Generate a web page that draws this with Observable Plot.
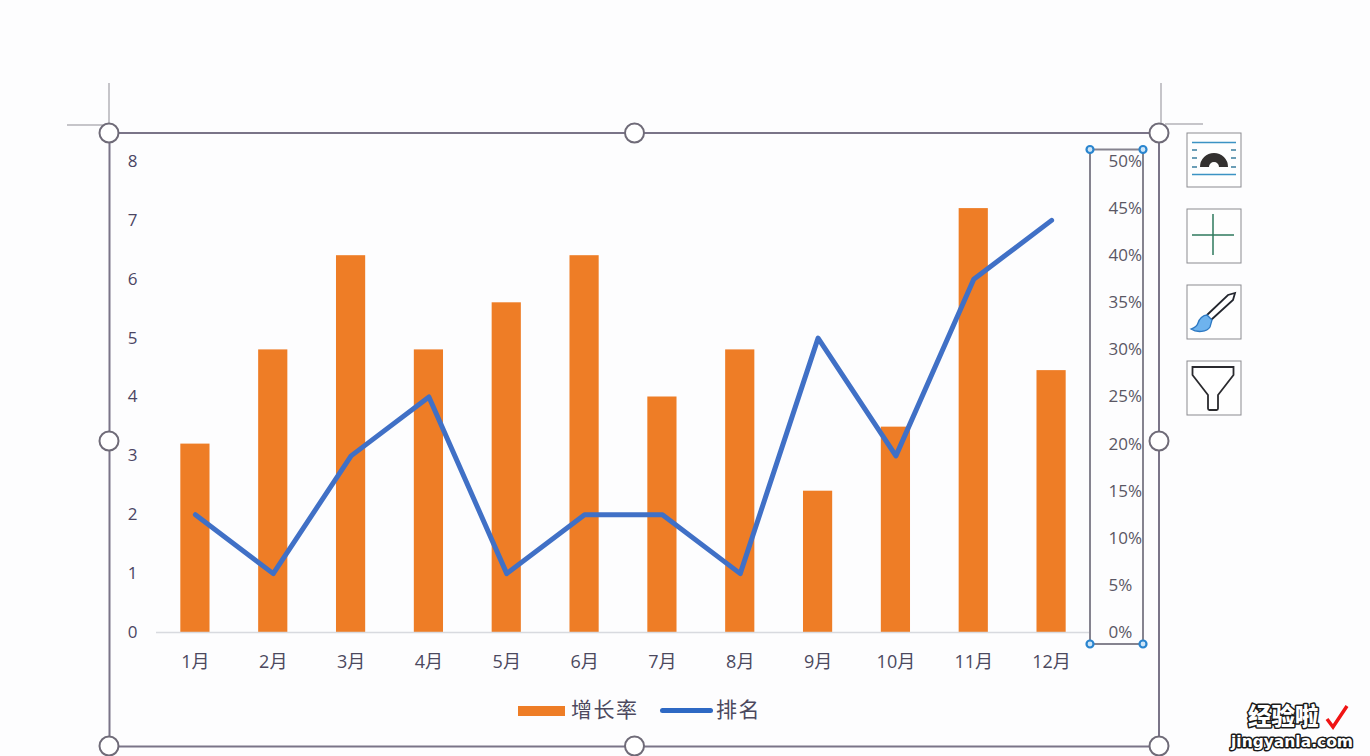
<!DOCTYPE html>
<html lang="zh">
<head>
<meta charset="utf-8">
<script src="https://cdn.jsdelivr.net/npm/d3@7"></script>
<script src="https://cdn.jsdelivr.net/npm/@observablehq/plot@0.6"></script>
<style>
  html, body { margin: 0; padding: 0; background: #fdfdfe; }
  body { position: relative; width: 1370px; height: 756px; overflow: hidden;
         font-family: "Open Sans", "Noto Sans CJK SC", sans-serif; color: #4c495e; }
  #chart svg { display: block; background: transparent; }
  #legend { position: absolute; left: 0; top: 692px; width: 1370px; height: 34px; }
  .item { position: absolute; top: 0; height: 34px; line-height: 34px; font-size: 21px; letter-spacing: 1.500px; white-space: nowrap; }
  .sw { position: absolute; }
  #chrome { position: absolute; left: 0; top: 0; pointer-events: none; }
</style>
</head>
<body>
<div id="chart"></div>
<div id="legend">
  <span class="sw" style="left:518px;top:14px;width:47px;height:10px;background:#ee7d26"></span>
  <span class="item" style="left:571px">增长率</span>
  <span class="sw" style="left:660px;top:16px;width:53px;height:5px;border-radius:3px;background:#2e69c4"></span>
  <span class="item" style="left:716px">排名</span>
</div>
<svg id="chrome" width="1370" height="756" viewBox="0 0 1370 756" fill="none">
  <g stroke="#8f8d95" stroke-width="1">
    <path d="M109 83V124M67 125H105M1161 83V124M1165 124H1203"/>
  </g>
  <rect x="109.500" y="133" width="1049.500" height="613.500" stroke="#7a7488" stroke-width="2"/>
  <g fill="#fff" stroke="#6f6b78" stroke-width="2">
    <circle cx="109" cy="133" r="9.500"/><circle cx="634.500" cy="133" r="9.500"/><circle cx="1159" cy="133" r="9.500"/>
    <circle cx="109" cy="441" r="9.500"/><circle cx="1159" cy="441" r="9.500"/>
    <circle cx="109" cy="746" r="9.500"/><circle cx="634.500" cy="746" r="9.500"/><circle cx="1159" cy="746" r="9.500"/>
  </g>
  <rect x="1090" y="149.500" width="53" height="494.500" stroke="#85838f" stroke-width="2"/>
  <g fill="#cfe6f8" stroke="#2a85cf" stroke-width="2.200">
    <circle cx="1090" cy="149.500" r="3.500"/><circle cx="1143" cy="149.500" r="3.500"/>
    <circle cx="1090" cy="644" r="3.500"/><circle cx="1143" cy="644" r="3.500"/>
  </g>
  <g fill="#fefefe" stroke="#8b8b90" stroke-width="1">
    <rect x="1187" y="133" width="54" height="54"/><rect x="1187" y="209" width="54" height="54"/>
    <rect x="1187" y="285" width="54" height="54"/><rect x="1187" y="361" width="54" height="54"/>
  </g>
  <path d="M1192 142.500H1236M1192 174.500H1236" stroke="#3b93c4" stroke-width="1.500"/>
  <path d="M1192 150H1197M1192 158H1197M1192 167H1197M1231 150H1236M1231 158H1236M1231 167H1236" stroke="#3b7f9f" stroke-width="1.500"/>
  <path d="M1200 167A14 14 0 0 1 1228 167H1219A5 5 0 0 0 1209 167Z" fill="#33302f"/>
  <path d="M1192 235H1234M1213 214V255" stroke="#2f7a5d" stroke-width="1.500"/>
  <path d="M1211 320L1233 300L1235 293L1228 295L1207 315" fill="#fff" stroke="#23262e" stroke-width="1.800"/>
  <path d="M1207 315C1203 315 1199 319 1198 323C1197 327 1194 328 1191 329C1197 333 1207 332 1210 327L1212 320Z" fill="#6eb3ee" stroke="#2c78c2" stroke-width="1.300"/>
  <path d="M1192.500 367H1233.500V375L1218 395V408.500A1.500 1.500 0 0 1 1216.500 410H1209.500A1.500 1.500 0 0 1 1208 408.500V395L1192.500 375Z" fill="#fff" stroke="#2a2a2e" stroke-width="1.800"/>
  <g font-family="Noto Sans CJK SC, sans-serif" font-weight="900" fill="#fff" stroke="#1a1a1a" stroke-width="3" paint-order="stroke" stroke-linejoin="round">
    <text x="1248" y="725" font-size="23.500">经验啦</text>
    <text x="1231" y="747" font-family="DejaVu Sans" font-weight="700" font-size="15.500">jingyanla.com</text>
  </g>
  <path d="M1327 719L1333 727L1347 706" stroke="#f01414" stroke-width="3.500"/>
</svg>
<script>
const months = ["1月","2月","3月","4月","5月","6月","7月","8月","9月","10月","11月","12月"];
const growth = [20, 30, 40, 30, 35, 40, 25, 30, 15, 21.800, 45, 27.800];
const rank = [2, 1, 3, 4, 1, 2, 2, 1, 5, 3, 6, 7];
const rankTicks = [0, 1, 2, 3, 4, 5, 6, 7, 8];
const pctTicks = ["0%","5%","10%","15%","20%","25%","30%","35%","40%","45%","50%"];

const rankMax = 8;
const pctMax = 50;
const barValues = growth.map(g => g * rankMax / pctMax);
const pctPositions = pctTicks.map(t => parseFloat(t) * rankMax / pctMax);

const plot = Plot.plot({
  width: 1370,
  height: 690,
  marginLeft: 156,
  marginRight: 280,
  marginTop: 161,
  marginBottom: 58,
  style: {background: "transparent", fontFamily: '"Open Sans", "Noto Sans CJK SC", sans-serif', overflow: "visible"},
  x: {domain: months, paddingInner: 0.625, paddingOuter: 0.3125, align: 0.5, round: false, label: null},
  y: {domain: [0, rankMax], label: null},
  marks: [
    Plot.barY(months, {x: d => d, y: (d, i) => barValues[i], fill: "#ee7d26"}),
    Plot.ruleY([0], {stroke: "#d8dadf", strokeWidth: 1.500}),
    Plot.line(months, {x: d => d, y: (d, i) => rank[i], stroke: "#4070c6", strokeWidth: 5, strokeLinejoin: "round", strokeLinecap: "round"}),
    Plot.axisX({tickSize: 0, tickPadding: 23, fontSize: 18, color: "#4c495e", label: null}),
    Plot.axisY({ticks: rankTicks, tickFormat: d3.format("d"), anchor: "left", tickSize: 0, tickPadding: 19, fontSize: 17, color: "#4b4563", label: null}),
    Plot.axisY({ticks: pctPositions, tickFormat: (d, i) => pctTicks[i], anchor: "right", tickSize: 0, tickPadding: 18, fontSize: 17, color: "#5a5764", label: null})
  ]
});
document.getElementById("chart").appendChild(plot);
</script>
</body>
</html>
